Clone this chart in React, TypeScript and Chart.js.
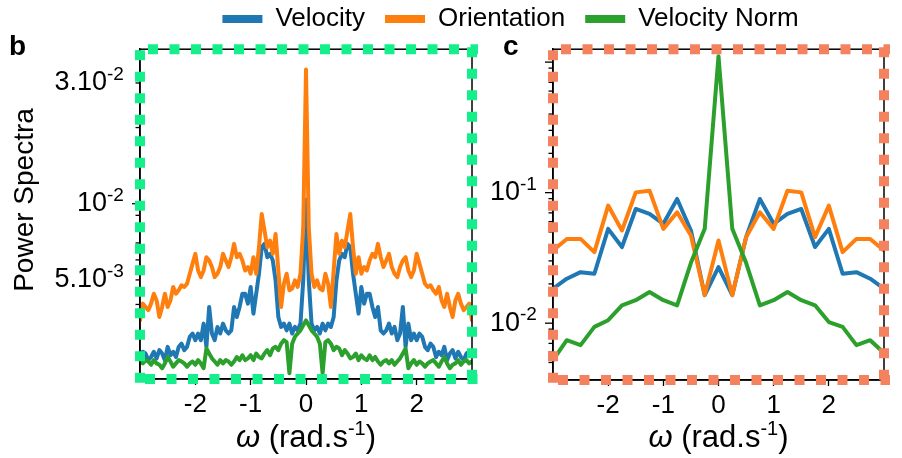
import React, { useEffect, useRef } from 'react';
import { Chart, registerables } from 'chart.js';

Chart.register(...registerables);

const FONT = "'Liberation Sans', Arial, Helvetica, sans-serif";

const SERIES_NAMES = ['Velocity', 'Orientation', 'Velocity Norm'];
const SERIES_COLORS = ['#1f77b4', '#ff7f0e', '#2ca02c'];

// ---------- panel b ----------
const omegaB = [
  -3, -2.95, -2.9, -2.85, -2.8, -2.75, -2.7, -2.65, -2.6, -2.55, -2.5, -2.45, -2.4, -2.35, -2.3, -2.25,
  -2.2, -2.15, -2.1, -2.05, -2, -1.95, -1.9, -1.85, -1.8, -1.75, -1.7, -1.65, -1.6, -1.55, -1.5, -1.45,
  -1.4, -1.35, -1.3, -1.25, -1.2, -1.15, -1.1, -1.05, -1, -0.95, -0.9, -0.85, -0.8, -0.75, -0.7, -0.65,
  -0.6, -0.55, -0.5, -0.45, -0.4, -0.35, -0.3, -0.25, -0.2, -0.15, -0.1, -0.05, 0,
  0.05, 0.1, 0.15, 0.2, 0.25, 0.3, 0.35, 0.4, 0.45, 0.5, 0.55, 0.6, 0.65, 0.7, 0.75, 0.8, 0.85, 0.9,
  0.95, 1, 1.05, 1.1, 1.15, 1.2, 1.25, 1.3, 1.35, 1.4, 1.45, 1.5, 1.55, 1.6, 1.65, 1.7, 1.75, 1.8, 1.85,
  1.9, 1.95, 2, 2.05, 2.1, 2.15, 2.2, 2.25, 2.3, 2.35, 2.4, 2.45, 2.5, 2.55, 2.6, 2.65, 2.7, 2.75, 2.8,
  2.85, 2.9, 2.95, 3,
];

const velocityB = [
  0.00252, 0.0026, 0.00256, 0.00241, 0.00248, 0.0026, 0.00245, 0.00264, 0.00256, 0.00241, 0.00272, 0.00252,
  0.0026, 0.00248, 0.00272, 0.0028, 0.00264, 0.00272, 0.00298, 0.00307, 0.00289, 0.00307, 0.00289, 0.00336,
  0.00272, 0.00391, 0.00307, 0.00289, 0.00326, 0.00307, 0.00336, 0.00316, 0.00307, 0.00316, 0.00391, 0.00357,
  0.00391, 0.00441, 0.00441, 0.00403, 0.00469, 0.00368, 0.00441, 0.00529, 0.00673, 0.00694, 0.00615, 0.00634,
  0.00597, 0.00498, 0.00357, 0.00326, 0.00336, 0.00316, 0.00336, 0.00307, 0.00326, 0.00316, 0.00336, 0.00498,
  0.0104,
  0.00498, 0.00336, 0.00316, 0.00326, 0.00307, 0.00336, 0.00316, 0.00336, 0.00326, 0.00357, 0.00498, 0.00597,
  0.00634, 0.00615, 0.00694, 0.00673, 0.00529, 0.00441, 0.00368, 0.00469, 0.00403, 0.00441, 0.00441, 0.00391,
  0.00357, 0.00391, 0.00316, 0.00307, 0.00316, 0.00336, 0.00307, 0.00326, 0.00289, 0.00307, 0.00391, 0.00272,
  0.00336, 0.00289, 0.00307, 0.00289, 0.00307, 0.00298, 0.00272, 0.00264, 0.0028, 0.00272, 0.00248, 0.0026,
  0.00252, 0.00272, 0.00241, 0.00256, 0.00264, 0.00245, 0.0026, 0.00248, 0.00241, 0.00256, 0.0026, 0.00252,
];

const orientationB = [
  0.00346, 0.00403, 0.00391, 0.0038, 0.00403, 0.00441, 0.00415, 0.00357, 0.00391, 0.00441, 0.00391, 0.00415,
  0.00469, 0.00441, 0.00455, 0.00476, 0.00469, 0.00483, 0.00529, 0.0058, 0.00634, 0.00545, 0.00513, 0.00545,
  0.00615, 0.00597, 0.00562, 0.00513, 0.00529, 0.00562, 0.00634, 0.00597, 0.00562, 0.00615, 0.00694, 0.00615,
  0.00634, 0.00597, 0.00545, 0.00562, 0.00529, 0.00615, 0.00529, 0.00673, 0.00911, 0.00783, 0.00673, 0.00715,
  0.00634, 0.0076, 0.00545, 0.00391, 0.00483, 0.00529, 0.00455, 0.00462, 0.00498, 0.00469, 0.00529, 0.00807,
  0.0339,
  0.00807, 0.00529, 0.00469, 0.00498, 0.00462, 0.00455, 0.00529, 0.00483, 0.00391, 0.00545, 0.0076, 0.00634,
  0.00715, 0.00673, 0.00783, 0.00911, 0.00673, 0.00529, 0.00615, 0.00529, 0.00562, 0.00545, 0.00597, 0.00634,
  0.00615, 0.00694, 0.00615, 0.00562, 0.00597, 0.00634, 0.00562, 0.00529, 0.00513, 0.00562, 0.00597, 0.00615,
  0.00545, 0.00513, 0.00545, 0.00634, 0.0058, 0.00529, 0.00483, 0.00469, 0.00476, 0.00455, 0.00441, 0.00469,
  0.00415, 0.00391, 0.00441, 0.00391, 0.00357, 0.00415, 0.00441, 0.00403, 0.0038, 0.00391, 0.00403, 0.00346,
];

const velocityNormB = [
  0.00238, 0.00234, 0.00241, 0.00238, 0.00231, 0.00241, 0.00234, 0.00231, 0.00224, 0.00234, 0.00248, 0.00238,
  0.00227, 0.00234, 0.00241, 0.00238, 0.00234, 0.00227, 0.00234, 0.00238, 0.00231, 0.00241, 0.00234, 0.00224,
  0.00268, 0.00256, 0.00245, 0.00238, 0.00231, 0.00241, 0.00234, 0.00241, 0.00238, 0.00231, 0.00238, 0.00248,
  0.00241, 0.00252, 0.00241, 0.00245, 0.00252, 0.00241, 0.00256, 0.00248, 0.00245, 0.00256, 0.00264, 0.00252,
  0.00268, 0.00272, 0.00264, 0.0028, 0.00289, 0.00284, 0.00214, 0.0028, 0.00298, 0.00307, 0.00316, 0.00331,
  0.00346,
  0.00331, 0.00316, 0.00307, 0.00298, 0.0028, 0.00214, 0.00284, 0.00289, 0.0028, 0.00264, 0.00272, 0.00268,
  0.00252, 0.00264, 0.00256, 0.00245, 0.00248, 0.00256, 0.00241, 0.00252, 0.00245, 0.00241, 0.00252, 0.00241,
  0.00248, 0.00238, 0.00231, 0.00238, 0.00241, 0.00234, 0.00241, 0.00231, 0.00238, 0.00245, 0.00256, 0.00268,
  0.00224, 0.00234, 0.00241, 0.00231, 0.00238, 0.00234, 0.00227, 0.00234, 0.00238, 0.00241, 0.00234, 0.00227,
  0.00238, 0.00248, 0.00234, 0.00224, 0.00231, 0.00234, 0.00241, 0.00231, 0.00238, 0.00241, 0.00234, 0.00238,
];

const yRangeB = [0.00203, 0.0408];
const yTicksB = [0.003, 0.004, 0.005, 0.006, 0.007, 0.008, 0.009, 0.01, 0.02, 0.03, 0.04];
const yLabelValuesB = [0.005, 0.01, 0.03];
const yLabelBasesB = ['5.10', '10', '3.10'];
const yLabelExpsB = ['-3', '-2', '-2'];

// ---------- panel c ----------
const omegaC = [
  -3, -2.75, -2.5, -2.25, -2, -1.75, -1.5, -1.25, -1, -0.75, -0.5, -0.25, 0,
  0.25, 0.5, 0.75, 1, 1.25, 1.5, 1.75, 2, 2.25, 2.5, 2.75, 3,
];
const velocityC = [
  0.0184, 0.0219, 0.0246, 0.0239, 0.0528, 0.0383, 0.075, 0.0687, 0.0577, 0.0895, 0.0513, 0.0164, 0.0269,
  0.0164, 0.0456, 0.0895, 0.0577, 0.0687, 0.075, 0.0383, 0.0528, 0.0239, 0.0246, 0.0219, 0.0184,
];
const orientationC = [
  0.036, 0.0442, 0.0442, 0.035, 0.0796, 0.0513, 0.1005, 0.1036, 0.0528, 0.0707, 0.047, 0.0164, 0.043,
  0.0164, 0.0456, 0.0707, 0.0528, 0.1036, 0.1005, 0.0456, 0.0796, 0.035, 0.0442, 0.0442, 0.036,
];
const velocityNormC = [
  0.00522, 0.00741, 0.00679, 0.00937, 0.01054, 0.0137, 0.015, 0.01734, 0.015, 0.0137, 0.029, 0.0528, 1.11,
  0.0528, 0.029, 0.0137, 0.015, 0.01734, 0.015, 0.0137, 0.0102, 0.00937, 0.00679, 0.00741, 0.0059,
];

const yRangeC = [0.00367, 1.256];
const yTicksC = [
  0.004, 0.005, 0.006, 0.007, 0.008, 0.009, 0.01, 0.02, 0.03, 0.04, 0.05, 0.06, 0.07, 0.08, 0.09,
  0.1, 0.2, 0.3, 0.4, 0.5, 0.6, 0.7, 0.8, 0.9, 1,
];
const yLabelValuesC = [0.01, 0.1];
const yLabelBasesC = ['10', '10'];
const yLabelExpsC = ['-2', '-1'];

// ---------- shared ----------
const xRange = [-3, 3];
const xTicks = [-2, -1, 0, 1, 2];
const xTickLabels = ['-2', '-1', '0', '1', '2'];
const xTitleParts = ['ω', ' (rad.s', '-1', ')'];
const yTitleB = 'Power Spectra';

const X_TICK_FONT = 26;
const Y_TICK_FONT = 27;
const SUP_FONT = 19;
const SUP_WIDTH = 18;
const Y_LABEL_GAP = 15;

const isMajor = (v: number) => Math.abs(Math.log10(v) - Math.round(Math.log10(v))) < 1e-6;
const findLabel = (vals: number[], v: number) => vals.findIndex((lv) => Math.abs(lv - v) / lv < 1e-6);

const decorPlugin = {
  id: 'decor',
  afterDraw(chart: any, _args: any, opts: any) {
    const { ctx, chartArea: a, scales } = chart;
    const y = scales.y;
    ctx.save();
    // y tick marks (major longer than minor) + superscript exponents of labels
    ctx.strokeStyle = '#000';
    ctx.lineWidth = 1.3;
    y.ticks.forEach((t: any) => {
      const py = y.getPixelForValue(t.value);
      const len = isMajor(t.value) ? 8 : 4.5;
      ctx.beginPath();
      ctx.moveTo(a.left - len, py);
      ctx.lineTo(a.left, py);
      ctx.stroke();
      const li = findLabel(opts.labelValues, t.value);
      if (li >= 0) {
        ctx.fillStyle = '#000';
        ctx.font = `${SUP_FONT}px ${FONT}`;
        ctx.textAlign = 'left';
        ctx.textBaseline = 'middle';
        ctx.fillText(opts.labelExps[li], a.left - Y_LABEL_GAP - SUP_WIDTH, py - 8);
      }
    });
    // black frame
    ctx.lineWidth = 1.5;
    ctx.strokeRect(a.left, a.top, a.right - a.left, a.bottom - a.top);
    // coloured square-dotted frame
    ctx.strokeStyle = opts.frameColor;
    ctx.lineWidth = 10;
    ctx.lineCap = 'butt';
    ctx.setLineDash([10, 11.5]);
    const seg = (x1: number, y1: number, x2: number, y2: number) => {
      ctx.beginPath();
      ctx.moveTo(x1, y1);
      ctx.lineTo(x2, y2);
      ctx.stroke();
    };
    seg(a.left, a.top + 1, a.left, a.bottom + 6);
    seg(a.left + 8, a.top, a.right + 6, a.top);
    seg(a.right, a.top - 2, a.right, a.bottom + 6);
    seg(a.left + 5, a.bottom, a.right + 6, a.bottom);
    ctx.setLineDash([]);

    // x title with italic omega and superscript
    ctx.fillStyle = '#000';
    ctx.textBaseline = 'alphabetic';
    ctx.textAlign = 'left';
    const fonts = [`italic 31px ${FONT}`, `31px ${FONT}`, `20px ${FONT}`, `31px ${FONT}`];
    const dys = [0, 0, -12, 0];
    let total = 0;
    const widths = xTitleParts.map((p, i) => {
      ctx.font = fonts[i];
      const w = ctx.measureText(p).width;
      total += w;
      return w;
    });
    let cx = (a.left + a.right) / 2 - total / 2;
    const base = opts.xTitleBaseline;
    xTitleParts.forEach((p, i) => {
      ctx.font = fonts[i];
      ctx.fillText(p, cx, base + dys[i]);
      cx += widths[i];
    });

    // y title
    if (opts.yTitle) {
      ctx.save();
      ctx.translate(opts.yTitleX, opts.yTitleY);
      ctx.rotate(-Math.PI / 2);
      ctx.textAlign = 'center';
      ctx.textBaseline = 'middle';
      ctx.font = `28px ${FONT}`;
      ctx.fillText(opts.yTitle, 0, 0);
      ctx.restore();
    }
    // panel letter
    ctx.font = `bold 28px ${FONT}`;
    ctx.textAlign = 'left';
    ctx.textBaseline = 'alphabetic';
    ctx.fillText(opts.letter, opts.letterX, opts.letterY);
    ctx.restore();
  },
};

function makePanel(canvas: HTMLCanvasElement, p: any) {
  const order = [2, 1, 0];
  return new Chart(canvas, {
    type: 'line',
    data: {
      datasets: p.series.map((s: number[], i: number) => ({
        label: SERIES_NAMES[i],
        data: p.omega.map((x: number, j: number) => ({ x, y: s[j] })),
        borderColor: SERIES_COLORS[i],
        backgroundColor: SERIES_COLORS[i],
        borderWidth: 4,
        pointRadius: 0,
        tension: 0,
        borderJoinStyle: 'round',
        borderCapStyle: 'round',
        order: order[i],
      })),
    },
    options: {
      animation: false,
      responsive: true,
      maintainAspectRatio: false,
      events: [],
      layout: { padding: { left: 0, right: p.padRight, top: 48, bottom: 0 } },
      plugins: {
        legend: { display: false },
        tooltip: { enabled: false },
        decor: { ...p.decor, labelValues: p.yLabelValues, labelExps: p.yLabelExps },
      } as any,
      scales: {
        x: {
          type: 'linear',
          min: xRange[0],
          max: xRange[1],
          afterBuildTicks: (s: any) => {
            s.ticks = xTicks.map((v) => ({ value: v }));
          },
          afterFit: (s: any) => {
            s.height = p.xAxisHeight;
          },
          ticks: {
            autoSkip: false,
            maxRotation: 0,
            padding: 4,
            color: '#000',
            font: { family: FONT, size: X_TICK_FONT },
            callback: (v: any) => {
              const i = xTicks.indexOf(Number(v));
              return i >= 0 ? xTickLabels[i] : '';
            },
          },
          grid: { drawOnChartArea: false, drawTicks: true, tickLength: 6, tickWidth: 1.3, tickColor: '#000' },
          border: { display: true, color: '#000', width: 1.5 },
        },
        y: {
          type: 'logarithmic',
          min: p.yRange[0],
          max: p.yRange[1],
          afterBuildTicks: (s: any) => {
            s.ticks = p.yTicks.map((v: number) => ({ value: v }));
          },
          afterFit: (s: any) => {
            s.width = p.yAxisWidth;
          },
          ticks: {
            autoSkip: false,
            padding: Y_LABEL_GAP + SUP_WIDTH,
            color: '#000',
            font: { family: FONT, size: Y_TICK_FONT },
            callback: (v: any) => {
              const i = findLabel(p.yLabelValues, Number(v));
              return i >= 0 ? p.yLabelBases[i] : '';
            },
          },
          grid: { drawOnChartArea: false, drawTicks: false },
          border: { display: true, color: '#000', width: 1.5 },
        },
      },
    } as any,
    plugins: [decorPlugin],
  });
}

function makeLegend(canvas: HTMLCanvasElement) {
  return new Chart(canvas, {
    type: 'line',
    data: {
      datasets: SERIES_NAMES.map((name, i) => ({
        label: name,
        data: [],
        borderColor: SERIES_COLORS[i],
        backgroundColor: SERIES_COLORS[i],
        borderWidth: 0,
      })),
    },
    options: {
      animation: false,
      responsive: true,
      maintainAspectRatio: false,
      events: [],
      layout: { padding: { left: 119, right: 0, top: 0, bottom: 0 } },
      scales: { x: { display: false }, y: { display: false } },
      plugins: {
        tooltip: { enabled: false },
        legend: {
          display: true,
          position: 'top',
          align: 'center',
          labels: {
            boxWidth: 40,
            boxHeight: 8,
            padding: 20,
            color: '#000',
            font: { family: FONT, size: 26 },
          },
        },
      },
    } as any,
  });
}

export default function App() {
  const legendRef = useRef<HTMLCanvasElement>(null);
  const leftRef = useRef<HTMLCanvasElement>(null);
  const rightRef = useRef<HTMLCanvasElement>(null);

  useEffect(() => {
    const charts: Chart[] = [];
    charts.push(makeLegend(legendRef.current!));
    charts.push(
      makePanel(leftRef.current!, {
        omega: omegaB,
        series: [velocityB, orientationB, velocityNormB],
        yRange: yRangeB,
        yTicks: yTicksB,
        yLabelValues: yLabelValuesB,
        yLabelBases: yLabelBasesB,
        yLabelExps: yLabelExpsB,
        padRight: 18,
        yAxisWidth: 140,
        xAxisHeight: 79,
        decor: {
          frameColor: '#14ef8c',
          xTitleBaseline: 447,
          yTitle: yTitleB,
          yTitleX: 25,
          yTitleY: 200,
          letter: 'b',
          letterX: 9,
          letterY: 55,
        },
      })
    );
    charts.push(
      makePanel(rightRef.current!, {
        omega: omegaC,
        series: [velocityC, orientationC, velocityNormC],
        yRange: yRangeC,
        yTicks: yTicksC,
        yLabelValues: yLabelValuesC,
        yLabelBases: yLabelBasesC,
        yLabelExps: yLabelExpsC,
        padRight: 18,
        yAxisWidth: 63,
        xAxisHeight: 78,
        decor: {
          frameColor: '#f4825e',
          xTitleBaseline: 447,
          yTitle: '',
          letter: 'c',
          letterX: 13,
          letterY: 55,
        },
      })
    );
    return () => charts.forEach((c) => c.destroy());
  }, []);

  return (
    <div style={{ position: 'absolute', left: 0, top: 0, width: 902, height: 458, overflow: 'hidden', background: '#fff' }}>
      <div style={{ position: 'absolute', left: 0, top: -14, width: 902, height: 300 }}>
        <canvas ref={legendRef} />
      </div>
      <div style={{ position: 'absolute', left: 0, top: 0, width: 490, height: 458 }}>
        <canvas ref={leftRef} />
      </div>
      <div style={{ position: 'absolute', left: 490, top: 0, width: 412, height: 458 }}>
        <canvas ref={rightRef} />
      </div>
    </div>
  );
}
